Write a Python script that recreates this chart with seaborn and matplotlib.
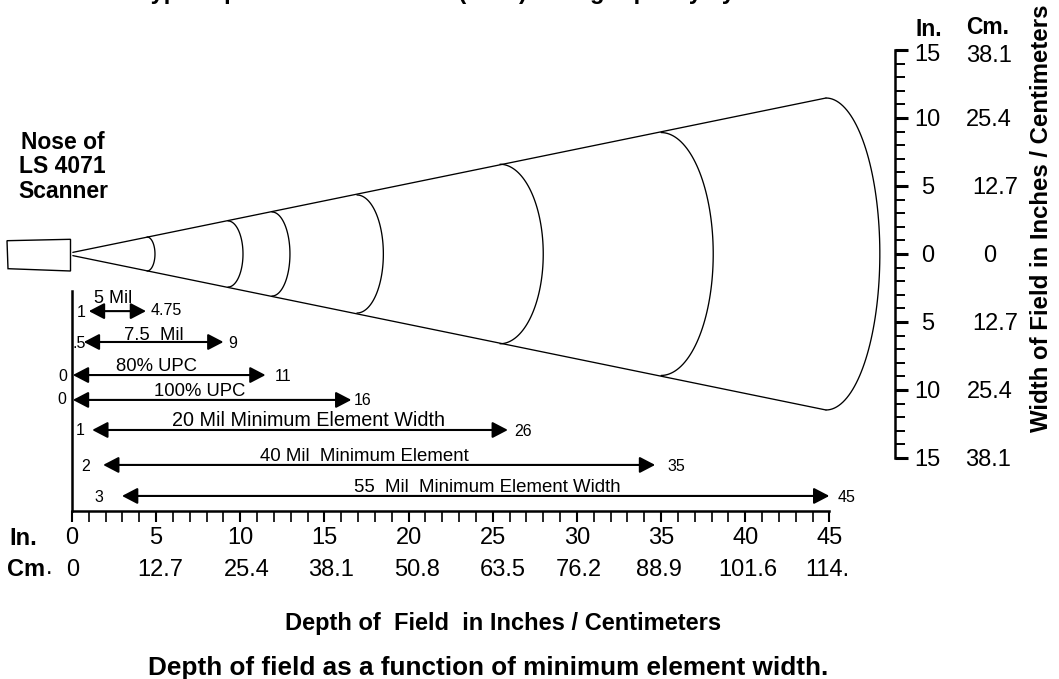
import matplotlib
matplotlib.use("Agg")
import matplotlib.pyplot as plt
import numpy as np
import pandas as pd
import seaborn as sns
from matplotlib.transforms import Affine2D

# ---------- data ----------
depth_ticks = [0, 5, 10, 15, 20, 25, 30, 35, 40, 45]
depth_cm_labels = ["0", "12.7", "25.4", "38.1", "50.8", "63.5", "76.2", "88.9", "101.6", "114."]
width_ticks = [-15, -10, -5, 0, 5, 10, 15]
width_in_labels = ["15", "10", "5", "0", "5", "10", "15"]
width_cm_labels = ["38.1", "25.4", "12.7", "0", "12.7", "25.4", "38.1"]

cone_depth = [0.05, 44.8]
cone_top = [0.12, 11.47]
cone_bottom = [-0.12, -11.47]

arc_corner_depth = [4.46, 9.27, 11.88, 16.93, 25.43, 35.0, 44.8]
arc_apex_depth = [4.93, 10.16, 12.95, 18.5, 28.0, 38.1, 48.0]
arc_half_width = [1.25, 2.43, 3.09, 4.34, 6.6, 8.93, 11.47]

range_names = ["5 Mil", "7.5  Mil", "80% UPC", "100% UPC", "20 Mil Minimum Element Width",
               "40 Mil  Minimum Element", "55  Mil  Minimum Element Width"]
range_start = [1.0, 0.7, 0.05, 0.05, 1.2, 1.85, 2.97]
range_end = [4.4, 9.0, 11.5, 16.6, 25.9, 34.65, 45.0]
range_row = [-4.2, -6.47, -8.9, -10.73, -12.94, -15.51, -17.79]
start_labels = ["1", ".5", "0", "0", "1", "2", "3"]
end_labels = ["4.75", "9", "11", "16", "26", "35", "45"]

# ---------- figure ----------
W, H = 1059, 679
sns.set_theme(style="white")
plt.rcParams["font.family"] = ["Liberation Sans", "DejaVu Sans"]
INK = "#000000"
fig = plt.figure(figsize=(W / 100, H / 100), dpi=100, facecolor="white")
ax = fig.add_axes([0, 0, 1, 1])
x0, sx = 72.0, 16.83
y0, sy = 254.0, 13.6
ax.set_xlim((0 - x0) / sx, (W - x0) / sx)
ax.set_ylim((y0 - H) / sy, (y0 - 0) / sy)
ax.patch.set_alpha(0)
pix = Affine2D().scale(1, -1).translate(0, H)


def T(x, y, s, size=13, weight="normal", ha="center", rot=0):
    dx = 1.5 if rot else 0
    dy = 0 if rot else 1.5
    ax.text(x + dx, y + dy, s, transform=pix, fontsize=size, fontweight=weight, ha=ha,
            va="center", rotation=rot, color=INK, clip_on=False)


# cone and arcs
theta = np.linspace(-np.pi / 2, np.pi / 2, 80)
rows = []
for i, (c, a, h) in enumerate(zip(arc_corner_depth, arc_apex_depth, arc_half_width)):
    for t in theta:
        rows.append({"curve": f"arc{i}", "depth": c + (a - c) * np.cos(t), "width": h * np.sin(t)})
for name, ys in (("top", cone_top), ("bottom", cone_bottom)):
    for d, w in zip(cone_depth, ys):
        rows.append({"curve": name, "depth": d, "width": w})
df = pd.DataFrame(rows)
sns.lineplot(data=df, x="depth", y="width", units="curve", estimator=None, sort=False,
             color=INK, linewidth=0.95, ax=ax, legend=False, errorbar=None)
ax.set_xlabel("")
ax.set_ylabel("")

# scanner nose outline
ax.fill([(7 - x0) / sx, (70.5 - x0) / sx, (70.5 - x0) / sx, (8 - x0) / sx],
        [(y0 - 240.7) / sy, (y0 - 239.3) / sy, (y0 - 271) / sy, (y0 - 268.7) / sy],
        facecolor="white", edgecolor=INK, linewidth=1.0)

# range arrows
for s, e, r in zip(range_start, range_end, range_row):
    ax.annotate("", xy=(e, r), xytext=(s, r),
                arrowprops=dict(arrowstyle="<|-|>,head_length=9.4,head_width=4.9", mutation_scale=1,
                                shrinkA=0, shrinkB=0, color=INK, lw=1.5))

# axes
ax.spines["top"].set_visible(False)
ax.spines["left"].set_position(("data", 0))
ax.spines["left"].set_bounds((y0 - 511) / sy, (y0 - 291) / sy)
ax.spines["bottom"].set_position(("data", (y0 - 511) / sy))
ax.spines["bottom"].set_bounds(0, 45)
ax.spines["right"].set_position(("data", (894.5 - x0) / sx))
ax.spines["right"].set_bounds(-15, 15)
for sp in ("left", "bottom", "right"):
    ax.spines[sp].set_color(INK)
    ax.spines[sp].set_linewidth(1.8)

ax.set_xticks(depth_ticks)
ax.set_xticklabels([str(v) for v in depth_ticks])
ax.set_xticks(np.arange(0, 46), minor=True)
ax.yaxis.tick_right()
ax.set_yticks(width_ticks)
ax.set_yticklabels(width_in_labels, ha="center")
ax.set_yticks(np.arange(-15, 16), minor=True)
ax.tick_params(axis="x", which="major", direction="out", length=8, width=1.5, color=INK,
               labelsize=17, pad=3.5, labelcolor=INK, bottom=True)
ax.tick_params(axis="x", which="minor", direction="out", length=8, width=1.2, color=INK, bottom=True)
ax.tick_params(axis="y", which="major", direction="out", length=9.4, width=2.2, color=INK,
               labelsize=17, pad=14.4, labelcolor=INK, right=True, left=False)
ax.tick_params(axis="y", which="minor", direction="out", length=7.5, width=1.4, color=INK, right=True, left=False)
# the topmost inch label sits a little below its tick in the reference
top_label = ax.yaxis.get_major_ticks()[-1].label2
top_label.set_transform(top_label.get_transform() + Affine2D().translate(0, -3))

# depth axis centimetre row
cm_x = [73, 160, 247, 331, 417, 503, 579, 659, 748, 827]
for x, s in zip(cm_x, depth_cm_labels):
    T(x, 569, s, 17)

# width axis centimetre column
cm_col_x = [988, 990, 995, 990, 995, 989, 989]
cm_col_y = [459, 391, 323, 254, 186, 118, 54]
for y, x, s in zip(cm_col_y, cm_col_x, width_cm_labels):
    T(x, y, s, 17)

# arrow captions
cap_xy = [(113, 297), (154, 334), (157, 365), (200, 390), (309, 419), (364, 455), (487, 486)]
cap_size = [13, 13.3, 13.3, 13.3, 14.2, 13.4, 13.4]
for (x, y), s, fs in zip(cap_xy, range_names, cap_size):
    T(x, y, s, fs)
start_xy = [(81, 311), (79, 342), (63, 375), (62, 398), (80, 429), (86, 465), (99, 496)]
for (x, y), s in zip(start_xy, start_labels):
    T(x, y, s, 11.5)
end_xy = [(166, 309), (233, 342), (283, 375), (363, 399), (523, 430), (676, 465), (847, 496)]
for (x, y), s in zip(end_xy, end_labels):
    T(x, y, s, 11.5)

# bold annotations
T(63, 141, "Nose of", 16.5, "bold")
T(62, 165, "LS 4071", 16.5, "bold")
T(63, 190, "Scanner", 16.5, "bold")
T(23, 537, "In.", 17, "bold")
T(7, 568, "Cm", 17, "bold", ha="left")
T(49, 566, ".", 17, "normal")
T(929, 28, "In.", 16.5, "bold")
T(988, 26, "Cm.", 16.5, "bold")
T(1040, 218, "Width of Field in Inches / Centimeters", 17.3, "bold", rot=90)
T(503, 622, "Depth of  Field  in Inches / Centimeters", 17, "bold")
T(488, 666, "Depth of field as a function of minimum element width.", 18.8, "bold")
ax.text(138, -1, "Typical performance at 68°F (20°C) on high quality symbols", transform=pix,
        fontsize=17, fontweight="bold", ha="left", va="baseline", color=INK, clip_on=False)

fig.savefig("out.png", dpi=100, facecolor="white")
